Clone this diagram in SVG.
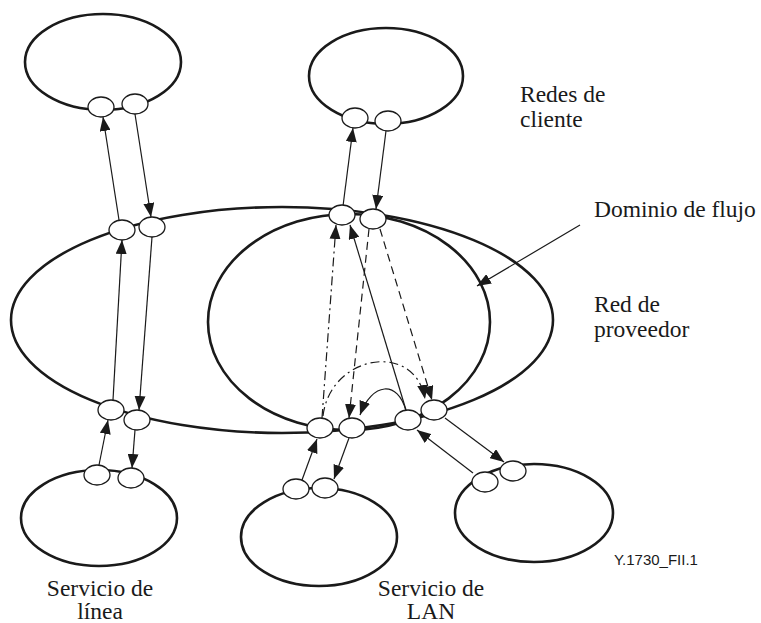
<svg xmlns="http://www.w3.org/2000/svg" width="761" height="623" viewBox="0 0 761 623">
<style>
.net{fill:none;stroke:#1a1a1a;stroke-width:2.6}
.nd{fill:#fff;stroke:#1a1a1a;stroke-width:1.3}
.c{fill:none;stroke:#1a1a1a;stroke-width:1.2;marker-end:url(#ah)}
.dd{stroke-dasharray:9 4 2 4}
.da{stroke-dasharray:8 5}
</style>
<defs>
<marker id="ah" viewBox="0 0 14 11" refX="14" refY="5.5" markerWidth="14" markerHeight="11" orient="auto" markerUnits="userSpaceOnUse"><path d="M0,0 L14,5.5 L0,11 z" fill="#1a1a1a"/></marker>
</defs>
<rect width="761" height="623" fill="#fff"/>
<g id="provider"><ellipse class="net" cx="282" cy="320" rx="271" ry="113"/></g>
<g id="flow-domain"><ellipse class="net" cx="349" cy="322" rx="141" ry="108"/></g>
<g id="client-tl"><ellipse class="net" cx="103" cy="62" rx="78" ry="48"/></g>
<g id="client-tr"><ellipse class="net" cx="386" cy="76" rx="77" ry="48"/></g>
<g id="client-bl"><ellipse class="net" cx="99" cy="518" rx="78" ry="48"/></g>
<g id="client-bm"><ellipse class="net" cx="319" cy="537" rx="78" ry="49"/></g>
<g id="client-br"><ellipse class="net" cx="534" cy="513" rx="79" ry="49"/></g>
<g id="connectors">
<line class="c" x1="119" y1="220" x2="103" y2="117"/>
<line class="c" x1="135" y1="114" x2="151" y2="217"/>
<line class="c" x1="113" y1="400" x2="122" y2="240"/>
<line class="c" x1="152" y1="237" x2="139" y2="410"/>
<line class="c" x1="99" y1="465" x2="108" y2="420"/>
<line class="c" x1="135" y1="430" x2="132" y2="468"/>
<line class="c" x1="343" y1="206" x2="353" y2="128"/>
<line class="c" x1="386" y1="131" x2="376" y2="209"/>
<line class="c dd" x1="322" y1="418" x2="336" y2="225"/>
<line class="c" x1="406" y1="410" x2="350" y2="225"/>
<line class="c da" x1="369" y1="229" x2="349" y2="418"/>
<line class="c da" x1="380" y1="229" x2="432" y2="400"/>
<path class="c dd" d="M323,416 C330,355 415,340 425,399"/>
<path class="c" d="M406,411 C398,380 372,382 360,415"/>
<line class="c" x1="302" y1="480" x2="317" y2="439"/>
<line class="c" x1="349" y1="438" x2="334" y2="479"/>
<line class="c" x1="473" y1="473" x2="417" y2="430"/>
<line class="c" x1="445" y1="418" x2="504" y2="462"/>
<line class="c" x1="580" y1="225" x2="477" y2="286"/>
</g>
<g id="node-tl1"><ellipse class="nd" cx="101" cy="107" rx="13" ry="10"/></g>
<g id="node-tl2"><ellipse class="nd" cx="135" cy="104" rx="13" ry="10"/></g>
<g id="node-pl1"><ellipse class="nd" cx="122" cy="230" rx="13" ry="10"/></g>
<g id="node-pl2"><ellipse class="nd" cx="152" cy="227" rx="13" ry="10"/></g>
<g id="node-pl3"><ellipse class="nd" cx="111" cy="410" rx="13" ry="10"/></g>
<g id="node-pl4"><ellipse class="nd" cx="137" cy="420" rx="13" ry="10"/></g>
<g id="node-bl1"><ellipse class="nd" cx="97" cy="475" rx="13" ry="10"/></g>
<g id="node-bl2"><ellipse class="nd" cx="131" cy="478" rx="13" ry="10"/></g>
<g id="node-tr1"><ellipse class="nd" cx="355" cy="118" rx="13" ry="10"/></g>
<g id="node-tr2"><ellipse class="nd" cx="388" cy="121" rx="13" ry="10"/></g>
<g id="node-pt1"><ellipse class="nd" cx="342" cy="215" rx="13" ry="10"/></g>
<g id="node-pt2"><ellipse class="nd" cx="373" cy="219" rx="13" ry="10"/></g>
<g id="node-pb1"><ellipse class="nd" cx="320" cy="428" rx="13" ry="10"/></g>
<g id="node-pb2"><ellipse class="nd" cx="352" cy="428" rx="13" ry="10"/></g>
<g id="node-pb3"><ellipse class="nd" cx="408" cy="420" rx="13" ry="10"/></g>
<g id="node-pb4"><ellipse class="nd" cx="434" cy="410" rx="13" ry="10"/></g>
<g id="node-bm1"><ellipse class="nd" cx="296" cy="489" rx="13" ry="10"/></g>
<g id="node-bm2"><ellipse class="nd" cx="325" cy="488" rx="13" ry="10"/></g>
<g id="node-br1"><ellipse class="nd" cx="485" cy="482" rx="13" ry="10"/></g>
<g id="node-br2"><ellipse class="nd" cx="513" cy="471" rx="13" ry="10"/></g>
<g id="labels" fill="#1a1a1a" font-size="23.5">
<text style="font-family:'Liberation Serif',serif" x="520" y="102">Redes de</text>
<text style="font-family:'Liberation Serif',serif" x="520" y="127">cliente</text>
<text style="font-family:'Liberation Serif',serif" x="594" y="217">Dominio de flujo</text>
<text style="font-family:'Liberation Serif',serif" x="594" y="312">Red de</text>
<text style="font-family:'Liberation Serif',serif" x="594" y="337">proveedor</text>
<text style="font-family:'Liberation Serif',serif" x="100" y="596" text-anchor="middle">Servicio de</text>
<text style="font-family:'Liberation Serif',serif" x="100" y="619" text-anchor="middle">línea</text>
<text style="font-family:'Liberation Serif',serif" x="431" y="596" text-anchor="middle">Servicio de</text>
<text style="font-family:'Liberation Serif',serif" x="431" y="619" text-anchor="middle">LAN</text>
<text style="font-family:'Liberation Sans',sans-serif" font-size="15" x="614" y="565">Y.1730_FII.1</text>
</g>
</svg>
